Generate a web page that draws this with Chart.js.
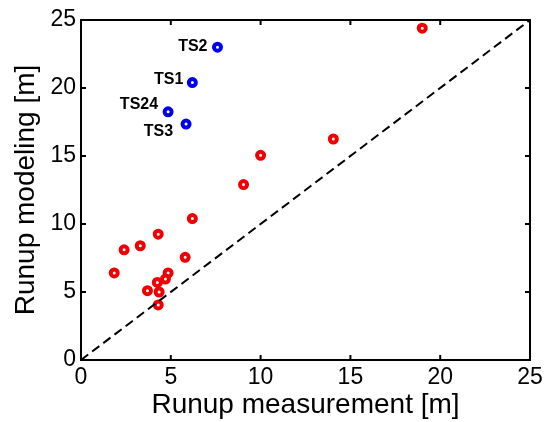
<!DOCTYPE html>
<html>
<head>
<meta charset="utf-8">
<script src="https://cdn.jsdelivr.net/npm/chart.js@4"></script>
<style>
  html, body { margin: 0; padding: 0; background: #fff; }
  canvas { display: block; }
</style>
</head>
<body>
<canvas id="runupChart" width="552" height="422"></canvas>
<script>
// runup values [m]
var measuredRed = [19.0, 14.05, 10.0, 9.05, 6.2, 4.3, 3.3, 2.4, 1.85, 5.8, 4.85, 4.7, 4.25, 3.7, 4.35, 4.3];
var modeledRed  = [24.4, 16.25, 15.05, 12.9, 10.4, 9.25, 8.4, 8.1, 6.4, 7.55, 6.4, 5.95, 5.7, 5.1, 5.0, 4.05];

var tsNames     = ['TS2', 'TS1', 'TS24', 'TS3'];
var measuredTs  = [7.6, 6.2, 4.85, 5.85];
var modeledTs   = [23.0, 20.4, 18.25, 17.35];

var axisTicks = [0, 5, 10, 15, 20, 25];

function toPoints(xs, ys) {
  return xs.map(function (x, i) {
    return { x: x, y: ys[i] };
  });
}

// MATLAB style box with ticks pointing inward
var boxPlugin = {
  id: 'box',
  beforeDatasetsDraw: function (chart) {
    var ctx = chart.ctx;
    var area = chart.chartArea;
    var xs = chart.scales.x;
    var ys = chart.scales.y;
    ctx.save();
    ctx.strokeStyle = '#000';
    ctx.lineWidth = 2;
    ctx.strokeRect(area.left, area.top, area.right - area.left, area.bottom - area.top);
    ctx.beginPath();
    axisTicks.forEach(function (v) {
      var px = xs.getPixelForValue(v);
      var py = ys.getPixelForValue(v);
      ctx.moveTo(px, area.bottom); ctx.lineTo(px, area.bottom - 5);
      ctx.moveTo(px, area.top); ctx.lineTo(px, area.top + 5);
      ctx.moveTo(area.left, py); ctx.lineTo(area.left + 5, py);
      ctx.moveTo(area.right, py); ctx.lineTo(area.right - 5, py);
    });
    ctx.stroke();
    ctx.restore();
  },
  afterDatasetsDraw: function (chart) {
    var ctx = chart.ctx;
    var pts = chart.getDatasetMeta(2).data;
    var offsets = [[-10, -1], [-9, -3], [-10, -7], [-13, 8]];
    ctx.save();
    ctx.font = 'bold 16px "Liberation Sans", Arial, sans-serif';
    ctx.fillStyle = '#000';
    ctx.textAlign = 'right';
    ctx.textBaseline = 'middle';
    tsNames.forEach(function (name, i) {
      ctx.fillText(name, pts[i].x + offsets[i][0], pts[i].y + offsets[i][1]);
    });
    ctx.restore();
  }
};

var fontFamily = '"Liberation Sans", Arial, sans-serif';

new Chart(document.getElementById('runupChart'), {
  type: 'scatter',
  data: {
    datasets: [{
      type: 'line',
      label: '1:1',
      data: [{ x: 0, y: 0 }, { x: 25, y: 25 }],
      borderColor: '#000',
      borderWidth: 2,
      borderDash: [9, 5],
      pointRadius: 0,
      fill: false,
    }, {
      label: 'Runup',
      data: toPoints(measuredRed, modeledRed),
      pointRadius: 3.5,
      pointBorderWidth: 4,
      borderColor: '#f00000',
      backgroundColor: '#ffffff',
    }, {
      label: 'TS',
      data: toPoints(measuredTs, modeledTs),
      pointRadius: 3.5,
      pointBorderWidth: 4,
      borderColor: '#0000f0',
      backgroundColor: '#ffffff',
    }],
  },
  options: {
    responsive: false,
    animation: false,
    devicePixelRatio: 1,
    layout: { padding: { top: 20, right: 22, left: 0, bottom: 0 } },
    plugins: {
      legend: { display: false },
      tooltip: { enabled: false },
    },
    scales: {
      x: {
        type: 'linear',
        min: 0,
        max: 25,
        afterFit: function (scale) { scale.height = 62; },
        afterBuildTicks: function (scale) {
          scale.ticks = axisTicks.map(function (v) { return { value: v }; });
        },
        grid: { display: false, drawTicks: false },
        border: { display: false },
        ticks: { color: '#000', padding: 4, font: { family: fontFamily, size: 23 }, maxRotation: 0 },
        title: {
          display: true,
          text: 'Runup measurement [m]',
          color: '#000',
          font: { family: fontFamily, size: 28 },
          padding: { top: 0, bottom: 0 },
        },
      },
      y: {
        type: 'linear',
        min: 0,
        max: 25,
        afterFit: function (scale) { scale.width = 81; },
        afterBuildTicks: function (scale) {
          scale.ticks = axisTicks.map(function (v) { return { value: v }; });
        },
        grid: { display: false, drawTicks: false },
        border: { display: false },
        ticks: { color: '#000', padding: 5, font: { family: fontFamily, size: 23 } },
        title: {
          display: true,
          text: 'Runup modeling [m]',
          color: '#000',
          font: { family: fontFamily, size: 28 },
          padding: { top: 9, bottom: 0 },
        },
      },
    },
  },
  plugins: [boxPlugin],
});
</script>
</body>
</html>
